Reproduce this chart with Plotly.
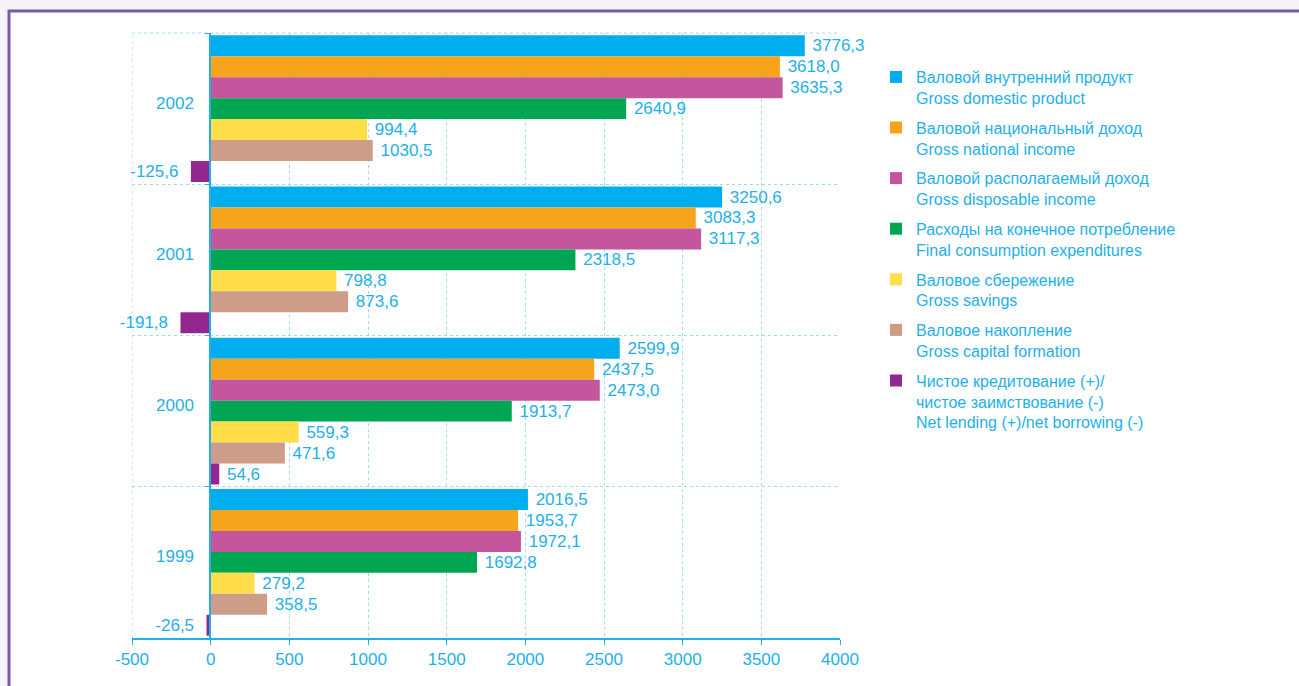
import plotly.graph_objects as go

years = ["2002", "2001", "2000", "1999"]

series_names = [
    "Валовой внутренний продукт<br>Gross domestic product",
    "Валовой национальный доход<br>Gross national income",
    "Валовой располагаемый доход<br>Gross disposable income",
    "Расходы на конечное потребление<br>Final consumption expenditures",
    "Валовое сбережение<br>Gross savings",
    "Валовое накопление<br>Gross capital formation",
    "Чистое кредитование (+)/<br>чистое заимствование (-)<br>Net lending (+)/net borrowing (-)",
]

gdp = [3776.3, 3250.6, 2599.9, 2016.5]
gni = [3618.0, 3083.3, 2437.5, 1953.7]
gdi = [3635.3, 3117.3, 2473.0, 1972.1]
final_cons = [2640.9, 2318.5, 1913.7, 1692.8]
savings = [994.4, 798.8, 559.3, 279.2]
cap_form = [1030.5, 873.6, 471.6, 358.5]
net_lending = [-125.6, -191.8, 54.6, -26.5]

series_values = [gdp, gni, gdi, final_cons, savings, cap_form, net_lending]
colors = ["#00aeef", "#f7a41d", "#c4569e", "#00a651", "#ffde4a", "#cd9d8a", "#92278f"]

x_ticks = [-500, 0, 500, 1000, 1500, 2000, 2500, 3000, 3500, 4000]

TXT = "#1eb0ea"
GRID = "#9edcf6"
FONT = "Liberation Sans, Arial, sans-serif"

# pixel helpers for plot geometry
L, R, T, B = 132, 840, 33, 638
W, H = 1299, 686


def px_x(p):
    return (p - L) / (R - L)


def px_y(p):
    return (B - p) / (B - T)


def label(v):
    s = f"{v:.1f}".replace(".", ",")
    return s + "\u00a0\u00a0" if v < 0 else "\u00a0" + s


fig = go.Figure()
for name, vals, col in zip(series_names, series_values, colors):
    fig.add_trace(go.Bar(
        y=years,
        x=vals,
        orientation="h",
        name=name,
        legendgroup=name,
        marker=dict(color=col, line=dict(width=0)),
        text=[label(v) for v in vals],
        textposition="outside",
        textfont=dict(color=TXT, size=17, family=FONT),
        constraintext="none",
        cliponaxis=False,
    ))

fig.update_layout(
    width=W,
    height=H,
    margin=dict(l=L, r=W - R, t=T, b=H - B, autoexpand=False),
    barmode="group",
    bargap=0.03,
    bargroupgap=0,
    paper_bgcolor="#f6f4f9",
    plot_bgcolor="white",
    font=dict(family=FONT, color=TXT, size=17),
    legend=dict(
        x=px_x(876), y=px_y(60), xanchor="left", yanchor="top",
        font=dict(size=16, color=TXT, family=FONT),
        valign="top",
        tracegroupgap=6,
        bgcolor="rgba(0,0,0,0)",
    ),
    xaxis=dict(
        range=[-500, 4000],
        tickvals=x_ticks,
        ticktext=[str(t) for t in x_ticks],
        showgrid=True, gridcolor=GRID, griddash="dot", gridwidth=1,
        zeroline=False,
        showline=True, linecolor="#1eb0ea", linewidth=1.5,
        ticks="outside", ticklen=5, tickcolor="#1eb0ea",
        tickfont=dict(size=17, color=TXT),
        fixedrange=True,
    ),
    yaxis=dict(
        type="category",
        categoryorder="array",
        categoryarray=years,
        autorange="reversed",
        anchor="free",
        position=px_x(210),
        tickson="boundaries",
        showgrid=True, gridcolor=GRID, griddash="dot", gridwidth=1,
        showline=True, linecolor="#1eb0ea", linewidth=1.5,
        ticks="outside", ticklen=4, tickcolor="#1eb0ea",
        ticklabelstandoff=12,
        ticklabelshift=6,
        tickfont=dict(size=17, color=TXT),
        fixedrange=True,
    ),
    shapes=[
        dict(type="rect", xref="paper", yref="paper",
             x0=px_x(9), x1=px_x(1330), y0=px_y(720), y1=px_y(11),
             line=dict(color="#7a5bab", width=3), fillcolor="white", layer="below"),
        dict(type="line", xref="x", yref="paper", x0=-500, x1=-500, y0=0, y1=1,
             line=dict(color=GRID, width=1, dash="dot"), layer="below"),
        dict(type="line", xref="paper", yref="paper", x0=0, x1=1, y0=1, y1=1,
             line=dict(color=GRID, width=1, dash="dot"), layer="below"),
    ],
)

fig.write_html(
    "out.html",
    config={"displayModeBar": False},
    post_script="document.body.style.margin='0';document.body.style.overflow='hidden';",
)
